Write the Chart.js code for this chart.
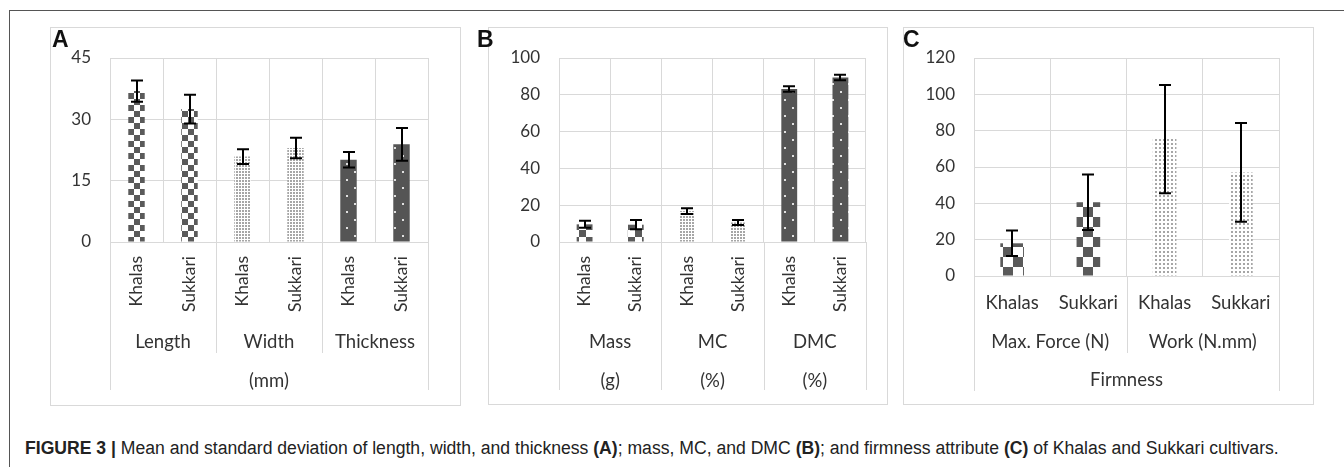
<!DOCTYPE html>
<html><head><meta charset="utf-8">
<script src="https://cdn.jsdelivr.net/npm/chart.js@4.4.1/dist/chart.umd.min.js"></script>
<style>
html,body{margin:0;padding:0;background:#fff;}
body{width:1344px;height:467px;position:relative;overflow:hidden;font-family:'Liberation Sans',Arial,sans-serif;}
.frameTop{position:absolute;left:9px;top:10px;width:1335px;height:1px;background:#555;}
.frameLeft{position:absolute;left:9px;top:10px;width:1px;height:457px;background:#555;}
.panel{position:absolute;border:1px solid #d9d9d9;box-sizing:border-box;}
canvas{position:absolute;}
.letter{position:absolute;font:bold 23px/23px 'Liberation Sans',Arial,sans-serif;color:#111;}
.caption{position:absolute;left:25px;top:439px;font-size:17.6px;line-height:18px;color:#222;white-space:nowrap;}
</style>
</head><body>
<div class="frameTop"></div><div class="frameLeft"></div>
<div class="panel" style="left:50px;top:27px;width:411px;height:379px;"></div>
<div class="panel" style="left:488px;top:27px;width:400px;height:378px;"></div>
<div class="panel" style="left:903px;top:27px;width:411px;height:378px;"></div>
<canvas id="cA" width="411" height="379" style="left:50px;top:27px;"></canvas>
<canvas id="cB" width="400" height="378" style="left:488px;top:27px;"></canvas>
<canvas id="cC" width="411" height="378" style="left:903px;top:27px;"></canvas>
<div class="letter" style="left:52px;top:28px;">A</div>
<div class="letter" style="left:477px;top:28px;">B</div>
<div class="letter" style="left:903px;top:28px;">C</div>
<div class="caption"><b>FIGURE 3 |</b> Mean and standard deviation of length, width, and thickness <b>(A)</b>; mass, MC, and DMC <b>(B)</b>; and firmness attribute <b>(C)</b> of Khalas and Sukkari cultivars.</div>
<script>
// ---------- data ----------
const catsA = ['Khalas','Sukkari','Khalas','Sukkari','Khalas','Sukkari'];
const groupsA = ['Length','Width','Thickness'];
const unitsA = ['(mm)'];
const meanA = [36.9, 32.5, 20.9, 23.0, 20.1, 23.9];
const sdA = [2.6, 3.5, 1.8, 2.5, 1.9, 4.0];
const ticksA = [0, 15, 30, 45];

const catsB = ['Khalas','Sukkari','Khalas','Sukkari','Khalas','Sukkari'];
const groupsB = ['Mass','MC','DMC'];
const unitsB = ['(g)','(%)','(%)'];
const meanB = [9.6, 9.4, 16.8, 10.6, 83.2, 89.4];
const sdB = [1.9, 2.5, 1.6, 1.4, 1.5, 1.5];
const ticksB = [0, 20, 40, 60, 80, 100];

const catsC = ['Khalas','Sukkari','Khalas','Sukkari'];
const groupsC = ['Max. Force (N)','Work (N.mm)'];
const unitsC = ['Firmness'];
const meanC = [18.0, 40.6, 75.4, 57.0];
const sdC = [7.0, 15.3, 29.8, 27.2];
const ticksC = [0, 20, 40, 60, 80, 100, 120];

// ---------- patterns ----------
function tile(w, h, draw){
  const c = document.createElement('canvas'); c.width = w; c.height = h;
  const g = c.getContext('2d'); draw(g);
  return document.createElement('canvas').getContext('2d').createPattern(c, 'repeat');
}
function checker(cell){
  return tile(cell*2, cell*2, g => {
    g.fillStyle = '#fff'; g.fillRect(0,0,cell*2,cell*2);
    g.fillStyle = '#5a5a5a'; g.fillRect(0,0,cell,cell); g.fillRect(cell,cell,cell,cell);
  });
}
function dots(p){
  return tile(p, p, g => {
    g.fillStyle = '#fff'; g.fillRect(0,0,p,p);
    g.fillStyle = '#a6a6a6'; g.fillRect(0,0,2,2);
  });
}
function darkDots(p){
  return tile(p, p, g => {
    g.fillStyle = '#555'; g.fillRect(0,0,p,p);
    g.fillStyle = '#e0e0e0'; g.fillRect(0,0,2,2); g.fillRect(p/2,p/2,2,2);
  });
}

// ---------- plugins ----------
const errorBars = {
  id: 'errorBars',
  afterDatasetsDraw(chart, args, opts){
    const meta = chart.getDatasetMeta(0);
    const ys = chart.scales.y;
    const ds = chart.data.datasets[0];
    const ctx = chart.ctx;
    ctx.save();
    ctx.strokeStyle = '#000'; ctx.lineWidth = 2;
    meta.data.forEach((bar, i) => {
      const m = ds.data[i], s = opts.sd[i];
      const yt = ys.getPixelForValue(m + s), yb = ys.getPixelForValue(m - s);
      const x = Math.round(bar.x), hw = opts.cap / 2;
      ctx.beginPath();
      ctx.moveTo(x, yt); ctx.lineTo(x, yb);
      ctx.moveTo(x - hw, yt); ctx.lineTo(x + hw, yt);
      ctx.moveTo(x - hw, yb); ctx.lineTo(x + hw, yb);
      ctx.stroke();
    });
    ctx.restore();
  }
};
const dividers = {
  id: 'dividers',
  afterDraw(chart, args, opts){
    const xs = chart.scales.x;
    const ctx = chart.ctx;
    const half = (xs.getPixelForValue(1) - xs.getPixelForValue(0)) / 2;
    ctx.save(); ctx.strokeStyle = '#d9d9d9'; ctx.lineWidth = 1;
    opts.lines.forEach(([idx, sid]) => {
      const x = Math.round(xs.getPixelForValue(idx) - half) + 0.5;
      ctx.beginPath(); ctx.moveTo(x, xs.top); ctx.lineTo(x, chart.scales[sid].bottom); ctx.stroke();
    });
    ctx.restore();
  }
};

Chart.defaults.font.family = 'Lato, "Open Sans", sans-serif';
Chart.defaults.font.size = 17;
Chart.defaults.color = '#333';

function makeChart(id, cfg){
  const fix = (prop, v) => (s => { s[prop] = v; });
  return new Chart(document.getElementById(id), {
    type: 'bar',
    data: {
      labels: cfg.cats,
      datasets: [{ data: cfg.mean, backgroundColor: cfg.fills, borderWidth: 0,
        barPercentage: 0.31, categoryPercentage: 1 }]
    },
    options: {
      responsive: false, animation: false, devicePixelRatio: 1,
      layout: { padding: cfg.pad },
      plugins: { legend: { display: false }, tooltip: { enabled: false },
        errorBars: { sd: cfg.sd, cap: 12 }, dividers: { lines: cfg.lines } },
      scales: {
        y: {
          min: cfg.ticks[0], max: cfg.ticks[cfg.ticks.length - 1],
          ticks: { stepSize: cfg.ticks[1] - cfg.ticks[0], padding: 19, color: '#333', font: { size: 17 } },
          grid: { color: '#d9d9d9', drawTicks: false },
          border: { display: false },
          afterFit: fix('width', cfg.yW)
        },
        x: {
          ticks: { autoSkip: false, minRotation: cfg.rot, maxRotation: cfg.rot, padding: cfg.p1, color: '#333', font: { size: cfg.f1 } },
          grid: { color: '#d9d9d9', offset: true, drawTicks: false },
          border: { display: true, color: '#d9d9d9' },
          afterFit: fix('height', cfg.h[0]), weight: 0
        },
        x2: {
          type: 'category', position: 'bottom', labels: cfg.groups, offset: true,
          ticks: { autoSkip: false, maxRotation: 0, padding: cfg.p2, color: '#333', font: { size: 18.5 } },
          grid: { display: false, drawTicks: false }, border: { display: false },
          afterFit: fix('height', cfg.h[1]), weight: 1
        },
        x3: {
          type: 'category', position: 'bottom', labels: cfg.units, offset: true,
          ticks: { autoSkip: false, maxRotation: 0, padding: cfg.p3, color: '#333', font: { size: 18.5 } },
          grid: { display: false, drawTicks: false }, border: { display: false },
          afterFit: fix('height', cfg.h[2]), weight: 2
        }
      }
    },
    plugins: [errorBars, dividers]
  });
}

const chk6 = checker(6), dot3 = dots(3), dd16 = darkDots(16);
makeChart('cA', {
  cats: catsA, groups: groupsA, units: unitsA, mean: meanA, sd: sdA, ticks: ticksA,
  fills: [chk6, chk6, dot3, dot3, dd16, dd16],
  pad: { left: 0, top: 31, right: 33, bottom: 16 }, yW: 60,
  rot: 90, f1: 17.5, h: [76, 35, 37], p1: 14, p2: 13, p3: 17,
  lines: [[0, 'x3'], [2, 'x2'], [4, 'x2'], [6, 'x3']]
});
const chk7 = checker(7);
makeChart('cB', {
  cats: catsB, groups: groupsB, units: unitsB, mean: meanB, sd: sdB, ticks: ticksB,
  fills: [chk7, chk7, dot3, dot3, dd16, dd16],
  pad: { left: 0, top: 31, right: 22, bottom: 15 }, yW: 71,
  rot: 90, f1: 17.5, h: [76, 35, 37], p1: 14, p2: 13, p3: 17,
  lines: [[0, 'x3'], [2, 'x3'], [4, 'x3'], [6, 'x3']]
});
const chk10 = checker(10), dot4 = dots(4);
makeChart('cC', {
  cats: catsC, groups: groupsC, units: unitsC, mean: meanC, sd: sdC, ticks: ticksC,
  fills: [chk10, chk10, dot4, dot4],
  pad: { left: 0, top: 31, right: 35, bottom: 14 }, yW: 71,
  rot: 0, f1: 18.5, h: [42, 35, 38], p1: 16, p2: 13, p3: 16,
  lines: [[0, 'x3'], [2, 'x2'], [4, 'x3']]
});
</script>
</body></html>
